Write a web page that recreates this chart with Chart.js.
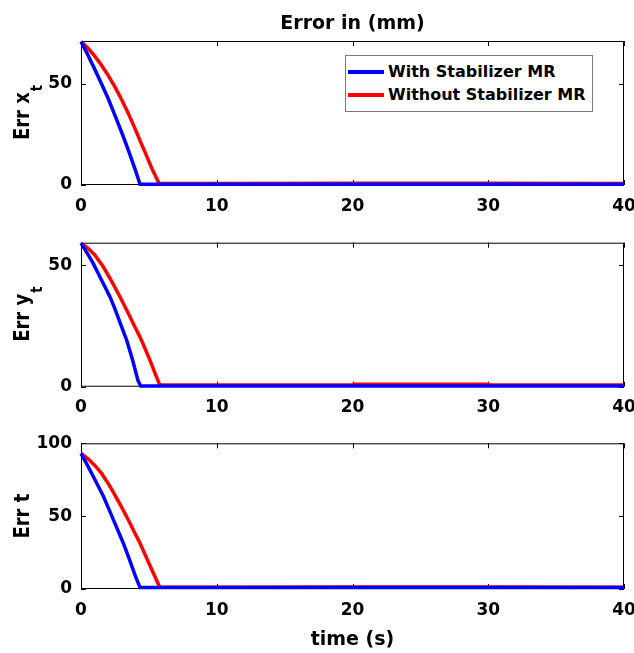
<!DOCTYPE html>
<html>
<head>
<meta charset="utf-8">
<script src="https://cdn.jsdelivr.net/npm/chart.js"></script>
<style>
  html, body { margin: 0; padding: 0; background: #fff; }
  #wrap { position: relative; width: 634px; height: 653px; overflow: hidden; }
  canvas { position: absolute; left: 0; }
  #legend {
    position: absolute; left: 345px; top: 55px; width: 246px; height: 51px;
    border: 1px solid #7a7a7a; background: #fff; padding-top: 4px; box-sizing: content-box;
    font: bold 16px "DejaVu Sans", sans-serif; color: #000;
  }
  #legend .row { height: 23px; line-height: 23px; white-space: nowrap; }
  #legend .swatch { display: inline-block; width: 36px; height: 4px; margin: 0 4px 0 2px; vertical-align: middle; position: relative; top: -1px; }
</style>
</head>
<body>
<div id="wrap">
  <canvas id="c1" width="634" height="220" style="top:0"></canvas>
  <canvas id="c2" width="634" height="200" style="top:220px"></canvas>
  <canvas id="c3" width="634" height="233" style="top:420px"></canvas>
  <div id="legend"></div>
</div>
<script>
// series names / colours
const seriesNames = ["With Stabilizer MR", "Without Stabilizer MR"];
const seriesColors = ["#0000FF", "#FF0000"];
const timeTicks = [0, 10, 20, 30, 40];

// Err x_t
const timeXtBlue = [0, 0.5, 1, 1.5, 2, 2.5, 3, 3.5, 4, 4.35, 10, 20, 30, 40];
const errXtBlue  = [71, 64.5, 57.5, 50.3, 42.8, 34.5, 26, 17, 7.5, 0.4, 0.4, 0.4, 0.4, 0.4];
const timeXtRed  = [0, 0.5, 1, 1.5, 2, 2.5, 3, 3.5, 4, 4.34, 4.7, 5, 5.3, 5.75, 10, 20, 30, 40];
const errXtRed   = [71, 67.8, 63.9, 59.4, 54.3, 48.6, 42.2, 35.2, 27.6, 22.1, 16.5, 11.7, 7, 0.8, 0.8, 0.9, 0.9, 0.8];
const ticksXt = [0, 50];

// Err y_t
const timeYtBlue = [0, 0.5, 0.9, 1.5, 2.13, 2.5, 3, 3.36, 3.8, 4.2, 4.4, 10, 20, 30, 40];
const errYtBlue  = [59, 54.5, 50.7, 44, 37, 32, 24.5, 19.2, 11, 2.5, 0.3, 0.3, 0.3, 0.3, 0.3];
const timeYtRed  = [0, 0.5, 1, 1.64, 2.2, 2.87, 3.5, 4, 4.34, 4.7, 5.07, 5.45, 5.8, 10, 20, 20.1, 30, 30.1, 40];
const errYtRed   = [59, 57, 54.3, 49.3, 43.9, 37, 30, 24.2, 20.5, 15.9, 11, 5.6, 0.7, 0.7, 0.8, 1.0, 1.0, 0.7, 0.7];
const ticksYt = [0, 50];

// Err t
const timeTBlue = [0, 0.5, 1, 1.64, 2, 2.5, 3.11, 3.5, 4, 4.35, 10, 20, 30, 40];
const errTBlue  = [93, 84.5, 75.5, 63.8, 56, 45, 31.6, 22, 9, 1, 1, 1, 1, 1];
const timeTRed  = [0, 0.5, 1, 1.5, 2, 2.38, 3, 3.5, 4, 4.34, 4.8, 5.3, 5.8, 10, 20, 30, 40];
const errTRed   = [93, 89.5, 85, 79.5, 72.5, 66.5, 56, 47.2, 37.8, 31.6, 22, 11.5, 1.2, 1.2, 1.4, 1.4, 1.2];
const ticksT = [0, 50, 100];

const FONT = "DejaVu Sans";
const pts = (ts, vs) => ts.map((t, i) => ({ x: t, y: vs[i] }));

// box, inward ticks, y label with subscript, optional title
const matlabAxes = {
  id: "matlabAxes",
  beforeDatasetsDraw(chart) {
    const { ctx, chartArea: a, scales } = chart;
    ctx.save();
    ctx.strokeStyle = "#000"; ctx.lineWidth = 1;
    ctx.strokeRect(a.left + 0.5, a.top + 0.5, a.right - a.left - 1, a.bottom - a.top - 1);
    ctx.beginPath();
    scales.x.ticks.forEach(t => {
      const px = Math.round(scales.x.getPixelForValue(t.value)) + 0.5;
      ctx.moveTo(px, a.bottom); ctx.lineTo(px, a.bottom - 5);
      ctx.moveTo(px, a.top); ctx.lineTo(px, a.top + 5);
    });
    scales.y.ticks.forEach(t => {
      const py = Math.round(scales.y.getPixelForValue(t.value)) + 0.5;
      ctx.moveTo(a.left, py); ctx.lineTo(a.left + 5, py);
      ctx.moveTo(a.right, py); ctx.lineTo(a.right - 5, py);
    });
    ctx.stroke();
    ctx.restore();
  },
  afterDraw(chart, args, opts) {
    const { ctx, chartArea: a } = chart;
    ctx.save();
    ctx.fillStyle = "#000";
    if (opts.title) {
      ctx.font = "bold 19px " + FONT;
      ctx.textAlign = "center"; ctx.textBaseline = "middle";
      ctx.fillText(opts.title, (a.left + a.right) / 2, 24.4);
    }
    const yc = (a.top + a.bottom) / 2;
    ctx.font = "bold 18px " + FONT;
    const mw = ctx.measureText(opts.main).width;
    ctx.font = "bold 13px " + FONT;
    const sw = opts.sub ? ctx.measureText(opts.sub).width : 0;
    ctx.translate(29, yc);
    ctx.rotate(-Math.PI / 2);
    ctx.scale(1, 1.22);
    ctx.textAlign = "left"; ctx.textBaseline = "alphabetic";
    const x0 = -(mw + sw) / 2;
    ctx.font = "bold 18px " + FONT;
    ctx.fillText(opts.main, x0, 0);
    if (opts.sub) {
      ctx.font = "bold 13px " + FONT;
      ctx.fillText(opts.sub, x0 + mw + 1, 10.5);
    }
    ctx.restore();
  }
};

function makeChart(id, blue, red, yMax, yTicks, o) {
  return new Chart(document.getElementById(id), {
    type: "line",
    data: {
      datasets: [
        { label: seriesNames[0], data: blue, borderColor: seriesColors[0], borderWidth: 3.5, pointRadius: 0, tension: 0, clip: false },
        { label: seriesNames[1], data: red, borderColor: seriesColors[1], borderWidth: 3.5, pointRadius: 0, tension: 0, clip: false }
      ]
    },
    options: {
      responsive: false, animation: false, devicePixelRatio: 1,
      layout: { padding: { top: o.top, right: 10, left: 0, bottom: 0 } },
      plugins: {
        legend: { display: false }, tooltip: { enabled: false },
        matlabAxes: { main: o.main, sub: o.sub, title: o.title }
      },
      scales: {
        x: {
          type: "linear", min: 0, max: 40,
          grid: { display: false, drawTicks: false }, border: { display: false },
          ticks: { color: "#000", padding: 11, font: { family: FONT, size: 17, weight: "bold" }, maxRotation: 0 },
          afterBuildTicks: s => { s.ticks = timeTicks.map(v => ({ value: v })); },
          afterFit: s => { s.height = o.xh; s.paddingLeft = 0; s.paddingRight = 0; },
          title: o.xtitle ? { display: true, text: o.xtitle, color: "#000", padding: { top: 0, bottom: 2 }, font: { family: FONT, size: 19, weight: "bold" } } : { display: false }
        },
        y: {
          type: "linear", min: 0, max: yMax,
          grid: { display: false, drawTicks: false }, border: { display: false },
          ticks: { color: "#000", padding: 9, font: { family: FONT, size: 17, weight: "bold" } },
          afterBuildTicks: s => { s.ticks = yTicks.map(v => ({ value: v })); },
          afterFit: s => { s.width = 81; s.paddingTop = 0; s.paddingBottom = 0; }
        }
      }
    },
    plugins: [matlabAxes]
  });
}

makeChart("c1", pts(timeXtBlue, errXtBlue), pts(timeXtRed, errXtRed), 71.3, ticksXt,
  { top: 41, xh: 35, main: "Err x", sub: "t", title: "Error in (mm)" });
makeChart("c2", pts(timeYtBlue, errYtBlue), pts(timeYtRed, errYtRed), 59.2, ticksYt,
  { top: 22.7, xh: 33.3, main: "Err y", sub: "t" });
makeChart("c3", pts(timeTBlue, errTBlue), pts(timeTRed, errTRed), 100, ticksT,
  { top: 23.3, xh: 64, main: "Err t", xtitle: "time (s)" });

// legend built from the series arrays
const leg = document.getElementById("legend");
seriesNames.forEach((name, i) => {
  const row = document.createElement("div");
  row.className = "row";
  const sw = document.createElement("span");
  sw.className = "swatch"; sw.style.background = seriesColors[i];
  row.appendChild(sw);
  row.appendChild(document.createTextNode(name));
  leg.appendChild(row);
});
</script>
</body>
</html>
